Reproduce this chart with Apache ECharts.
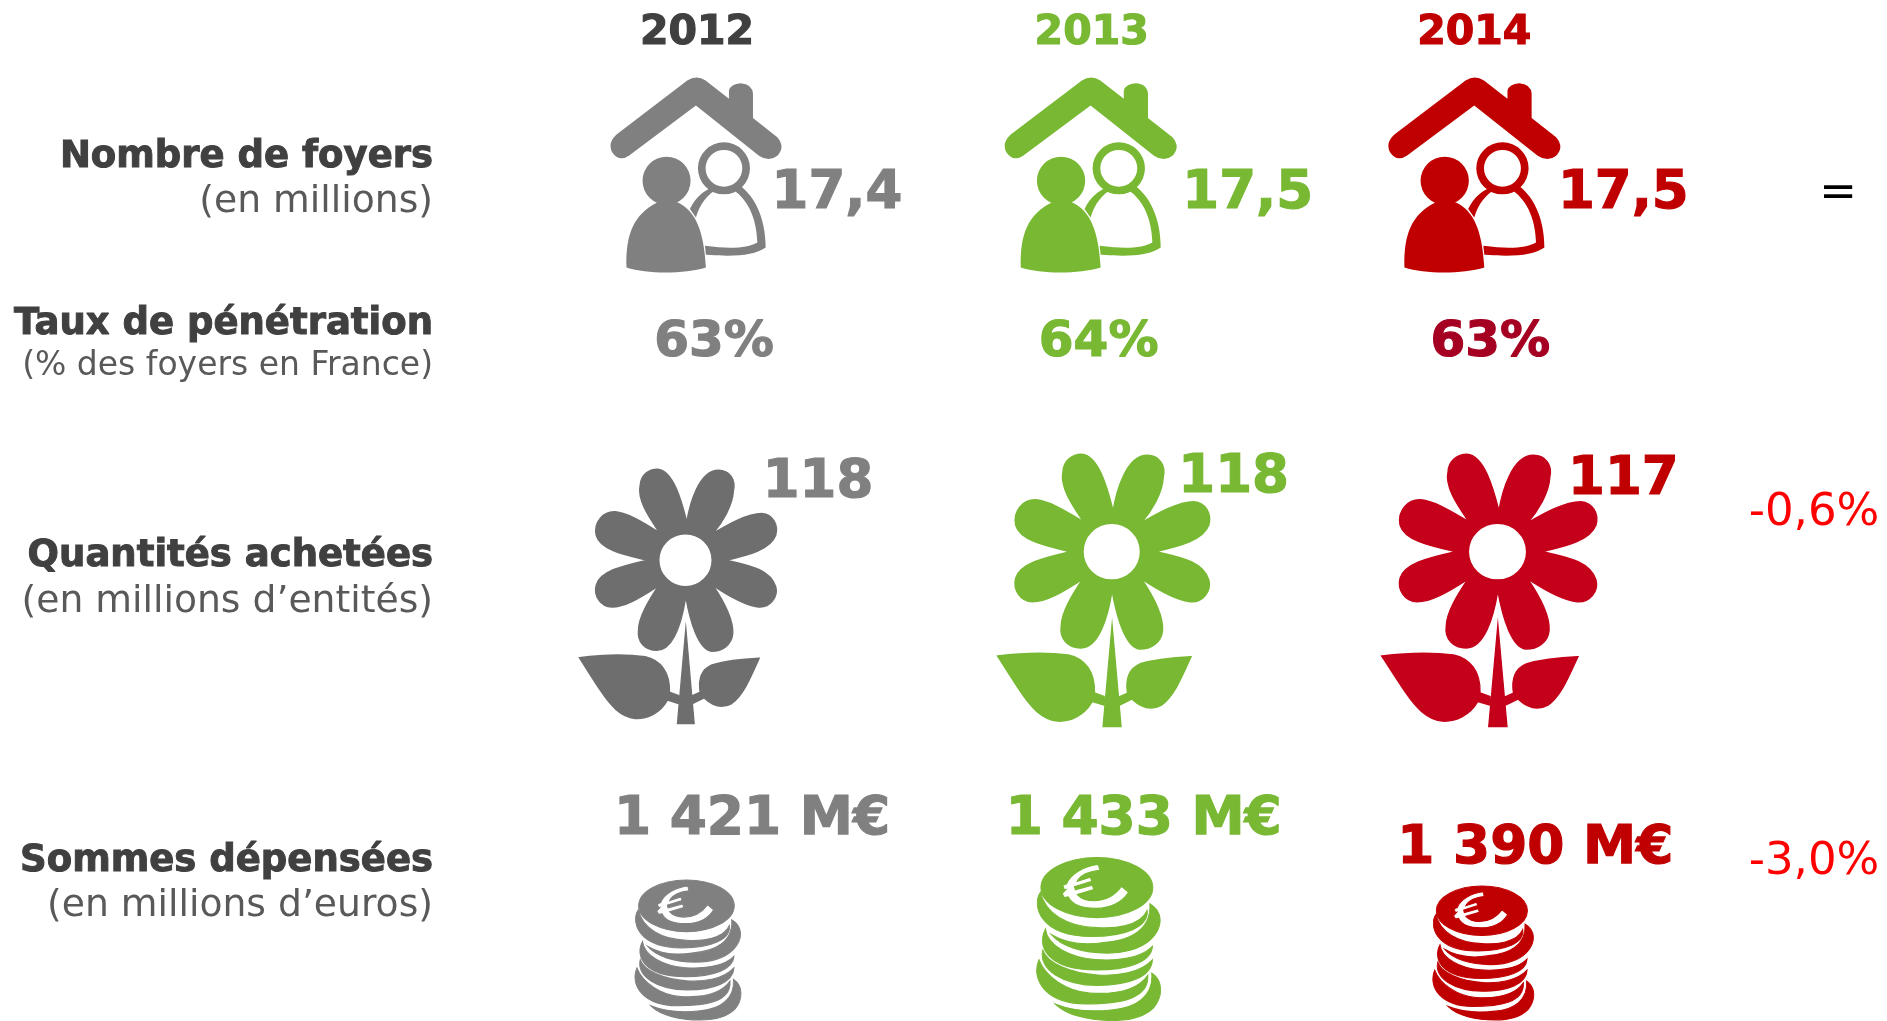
<!DOCTYPE html>
<html>
<head>
<meta charset="utf-8">
<style>html,body{margin:0;height:100%;background:#fff;overflow:hidden}#main{width:1887px;height:1021px}</style>
<script src="https://cdn.jsdelivr.net/npm/echarts@6/dist/echarts.min.js"></script>
</head>
<body>
<div id="main"></div>
<script>
// data
const years = ['2012', '2013', '2014'];
const metrics = ['foyers', 'penetration', 'quantites', 'sommes'];
const foyers = [17.4, 17.5, 17.5];
const penetration = [63, 64, 63];
const quantites = [118, 118, 117];
const sommes = [1421, 1433, 1390];
const evolution = [0, null, -0.6, -3.0];
const rowTitles = [
  ['Nombre de foyers', '(en millions)'],
  ['Taux de pénétration', '(% des foyers en France)'],
  ['Quantités achetées', '(en millions d’entités)'],
  ['Sommes dépensées', '(en millions d’euros)']
];

// colours
const GREY = '#808080', GREEN = '#78B833', RED = '#C00000';
const yearColors = ['#404040', GREEN, RED];
const valueColors = [GREY, GREEN, RED];
const flowerColors = ['#6E6E6E', GREEN, '#C4001A'];
const penetrationColors = [GREY, GREEN, '#A50021'];

// icon shapes
const HOUSE = 'path://M80,400 L290,240 Q318,222 345,240 L415,295 L415,270 Q420,250 450,248 Q485,250 487,280 L487,352 L560,410 Q585,440 560,465 Q535,485 505,465 L316,315 L115,465 Q85,485 65,455 Q50,425 80,400Z' +
  'M156,540 A72,72 0 0 1 300,540 A72,72 0 0 1 156,540Z' +
  'M108,800 C105,700 130,640 200,605 L262,605 C315,630 340,690 346,800 C280,820 170,820 108,800Z' +
  'M322,503 A78,78 0 0 1 478,503 A78,78 0 0 1 322,503Z M345,503 A55,55 0 0 0 455,503 A55,55 0 0 0 345,503Z' +
  'M298,625 C315,590 340,570 365,560 L385,562 C350,580 328,610 316,650Z' +
  'M418,562 L440,550 C490,580 525,650 525,740 C490,765 430,768 346,762 L343,735 C420,745 470,742 500,725 C498,650 470,590 418,562Z';
const FLOWER = 'path://M350,250 C358,200 385,95 445,95 C480,95 497,125 490,155 C488,200 458,250 428,285 C470,260 530,225 575,225 C610,228 625,260 617,290 C600,335 530,350 468,365 C530,380 600,390 617,445 C625,475 600,508 565,505 C520,500 465,465 428,440 C455,480 490,540 488,585 C485,620 455,638 425,638 C385,635 360,550 347,475 C335,550 310,635 260,635 C225,635 200,610 205,575 C205,535 240,480 265,442 C220,470 170,505 125,505 C90,505 70,470 78,440 C90,395 170,380 232,365 C170,350 90,335 78,290 C70,250 100,218 135,220 C180,225 230,260 268,282 C240,240 200,185 210,140 C212,110 235,92 262,92 C310,95 335,190 350,250Z' +
  'M266,365 A80,80 0 0 0 426,365 A80,80 0 0 0 266,365Z' +
  'M347,570 L372,855 L322,855Z' +
  'M28,658 C90,650 170,648 225,655 C270,665 300,700 298,762 L325,772 L325,795 L292,785 C270,825 230,842 195,840 C150,835 120,800 90,755 C70,725 45,685 28,658Z' +
  'M567,660 C540,720 520,770 485,795 C455,812 425,800 402,778 L368,795 L368,772 L390,762 C385,730 390,695 425,680 C465,668 520,662 567,660Z';
const COINS = 'path://M113,378 A145,78 0 0 1 403,378 A145,78 0 0 1 113,378Z' +
  'M262,318 C225,322 190,342 180,368 L170,372 L174,384 L178,383 L168,394 L174,404 L184,402 C195,425 225,432 255,432 C295,432 325,415 340,390 L322,375 C305,398 280,412 250,412 C230,412 215,405 207,396 L250,383 L246,372 L202,384 L200,376 L245,362 L241,351 L207,362 C215,345 240,335 265,333Z' +
  'M112,390 C90,420 105,505 245,505 C330,505 395,480 388,437 C370,480 300,485 258,482 C180,480 125,445 112,390Z' +
  'M395,420 C430,440 430,480 400,510 C370,540 320,548 285,548 C220,548 165,530 140,500 C190,530 250,525 280,520 C340,515 400,490 395,420Z' +
  'M125,485 C100,530 130,592 255,592 C340,592 400,570 402,530 C370,565 300,568 255,565 C190,560 130,530 125,485Z' +
  'M118,540 C105,590 170,632 260,632 C340,632 400,610 402,565 C370,600 310,608 260,605 C190,600 130,575 118,540Z' +
  'M108,565 C85,620 130,680 230,680 C310,680 395,670 390,605 C360,650 290,655 240,652 C180,648 125,610 108,565Z' +
  'M400,600 C430,620 430,660 405,690 C380,715 340,723 300,723 C240,723 180,710 150,680 C200,700 260,700 300,695 C360,690 405,660 400,600Z';

// icon centre offsets from the (year, metric) point, and icon sizes
const houseOffsets = [[-1, -1], [6, -1], [2, -1]];
const houseSizes = [[171, 195], [172, 195], [172, 195]];
const flowerOffsets = [[-19, -49], [19, -55], [17, -55]];
const flowerSizes = [[197, 254], [212, 272], [215, 272]];
const coinOffsets = [[-9, 70], [14, 59], [11, 73]];
const coinSizes = [[106, 140], [124, 163], [101, 134]];

// text offsets from the (year, metric) point
const foyersOffsets = [[140, 18], [163, 18], [151, 18]];
const penetrationOffsets = [[17, -68], [14, -68], [18, -68]];
const quantitesOffsets = [[121, -162], [149, -167], [151, -165]];
const sommesOffsets = [[55, -60], [59, -60], [63, -31]];
const evolutionOffsets = [[-22, 18], null, [-46, -132], [-46, -18]];
const rowTitleDy = [4, -65, -66, 4];

const frNumber = function (v, digits) {
  return v.toFixed(digits || 0).replace('.', ',');
};
const frThousands = function (v) {
  return String(v).replace(/\B(?=(\d{3})+$)/g, ' ');
};

function iconSeries(row, symbol, sizes, offsets, colors, border) {
  return {
    type: 'scatter',
    silent: true,
    data: years.map(function (y, i) {
      return {
        value: [y, metrics[row]],
        symbol: symbol,
        symbolSize: sizes[i],
        symbolOffset: offsets[i],
        itemStyle: { color: colors[i], opacity: 1, borderColor: colors[i], borderWidth: border }
      };
    })
  };
}

function textPoint(x, row, text, offset, color, size, weight) {
  return {
    value: [x, metrics[row]],
    symbol: 'circle',
    symbolSize: 1,
    itemStyle: { color: 'transparent', opacity: 1 },
    label: {
      show: true,
      position: 'inside',
      formatter: text,
      offset: offset,
      color: color,
      fontSize: size,
      fontWeight: weight,
      textBorderColor: weight === 'bold' ? color : 'transparent',
      textBorderWidth: weight === 'bold' ? 1.2 : 0,
      align: 'center',
      verticalAlign: 'middle'
    }
  };
}

function valueSeries(row, values, format, offsets, colors, size) {
  return {
    type: 'scatter',
    silent: true,
    data: years.map(function (y, i) {
      return textPoint(y, row, format(values[i]), offsets[i], colors[i], size, 'bold');
    })
  };
}

const evolutionPoints = [];
evolution.forEach(function (v, row) {
  if (v === null) return;
  const text = v === 0 ? '=' : frNumber(v, 1) + '%';
  evolutionPoints.push(textPoint('', row, text, evolutionOffsets[row], v === 0 ? '#000' : '#FF0000', 45, 'normal'));
});

const titlePoints = rowTitles.map(function (t, row) {
  const small = row === 1;
  const p = textPoint('2012', row, '{b|' + t[0] + '}\n{n|' + t[1] + '}', [-264, rowTitleDy[row]], '#404040', 37, 'normal');
  p.label.align = 'right';
  p.label.rich = {
    b: { fontSize: 37, fontWeight: 'bold', color: '#404040', textBorderColor: '#404040', textBorderWidth: 1, lineHeight: small ? 42 : 45, fontFamily: 'DejaVu Sans' },
    n: { fontSize: small ? 33 : 37.7, fontWeight: 'normal', color: '#595959', lineHeight: small ? 42 : 45, fontFamily: 'DejaVu Sans' }
  };
  return p;
});

function yearStyle(i, pad) {
  return { fontSize: 41, fontWeight: 'bold', color: yearColors[i], textBorderColor: yearColors[i], textBorderWidth: 1.2, padding: [0, 0, 0, pad] };
}

const mChart = echarts.init(document.getElementById('main'), null, { renderer: 'canvas' });
mChart.setOption({
  animation: false,
  backgroundColor: '#fff',
  textStyle: { fontFamily: 'DejaVu Sans' },
  grid: { left: 697, right: 27, top: 176, bottom: 141 },
  xAxis: {
    type: 'category',
    position: 'top',
    boundaryGap: false,
    data: years.concat(['']),
    axisLine: { show: false },
    axisTick: { show: false },
    splitLine: { show: false },
    axisLabel: {
      interval: 0,
      margin: 122,
      formatter: function (v) {
        return v ? '{y' + years.indexOf(v) + '|' + v + '}' : '';
      },
      rich: { y0: yearStyle(0, 0), y1: yearStyle(1, 14), y2: yearStyle(2, 4) }
    }
  },
  yAxis: {
    type: 'category',
    inverse: true,
    boundaryGap: false,
    data: metrics,
    show: false
  },
  series: [
    iconSeries(0, HOUSE, houseSizes, houseOffsets, valueColors, 0),
    iconSeries(2, FLOWER, flowerSizes, flowerOffsets, flowerColors, 1.5),
    iconSeries(3, COINS, coinSizes, coinOffsets, valueColors, 1),
    valueSeries(0, foyers, function (v) { return frNumber(v, 1); }, foyersOffsets, valueColors, 53),
    valueSeries(1, penetration, function (v) { return v + '%'; }, penetrationOffsets, penetrationColors, 50),
    valueSeries(2, quantites, function (v) { return String(v); }, quantitesOffsets, valueColors, 53),
    valueSeries(3, sommes, function (v) { return frThousands(v) + ' M€'; }, sommesOffsets, valueColors, 53.4),
    { type: 'scatter', silent: true, data: evolutionPoints },
    { type: 'scatter', silent: true, data: titlePoints }
  ]
});
</script>
</body>
</html>
